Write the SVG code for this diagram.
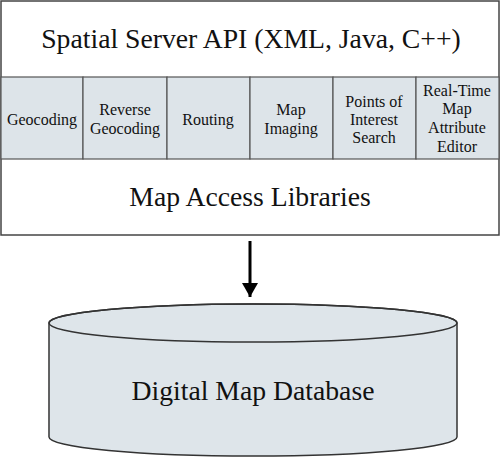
<svg xmlns="http://www.w3.org/2000/svg" width="500" height="457" viewBox="0 0 500 457">
<style>
text{font-family:"Liberation Serif","Times New Roman",serif;fill:#111;text-anchor:middle}
.big{font-size:27.7px}
.cell{font-size:16px}
.box{fill:#fff;stroke:#444;stroke-width:1.5}
.c{fill:#dde4e9;stroke:#555;stroke-width:1.2}
.cyl{fill:#dee5ea;stroke:#333;stroke-width:1.5}
</style>
<defs>
<marker id="ah" viewBox="0 0 14 16" refX="14" refY="8" markerWidth="14" markerHeight="16" markerUnits="userSpaceOnUse" orient="auto">
<path d="M0,0 L14,8 L0,16 Z" fill="#000"/>
</marker>
</defs>
<g id="api">
<rect class="box" x="1" y="1" width="498" height="234"/>
<text class="big" x="251" y="48">Spatial Server API (XML, Java, C++)</text>
</g>
<g id="geocoding"><rect class="c" x="1" y="77" width="82" height="82"/><text class="cell" x="42" y="125">Geocoding</text></g>
<g id="reverse"><rect class="c" x="83" y="77" width="84" height="82"/><text class="cell" x="125" y="115">Reverse</text><text class="cell" x="125" y="134">Geocoding</text></g>
<g id="routing"><rect class="c" x="167" y="77" width="83" height="82"/><text class="cell" x="208" y="125">Routing</text></g>
<g id="imaging"><rect class="c" x="250" y="77" width="83" height="82"/><text class="cell" x="291" y="115">Map</text><text class="cell" x="291" y="134">Imaging</text></g>
<g id="poi"><rect class="c" x="333" y="77" width="83" height="82"/><text class="cell" x="374" y="107">Points of</text><text class="cell" x="374" y="125">Interest</text><text class="cell" x="374" y="143">Search</text></g>
<g id="editor"><rect class="c" x="416" y="77" width="83" height="82"/><text class="cell" x="457" y="96">Real-Time</text><text class="cell" x="457" y="114">Map</text><text class="cell" x="457" y="133">Attribute</text><text class="cell" x="457" y="152">Editor</text></g>
<g id="libraries"><text class="big" x="250" y="206">Map Access Libraries</text></g>
<g id="connectors">
<line x1="250" y1="241" x2="250" y2="297" stroke="#000" stroke-width="3" marker-end="url(#ah)"/>
</g>
<g id="database">
<path class="cyl" d="M49,323 A204,19 0 0 1 457,323 L457,437 A204,19 0 0 1 49,437 Z"/>
<ellipse cx="253" cy="323" rx="204" ry="19" fill="none" stroke="#333" stroke-width="1.5"/>
<text class="big" x="253" y="400">Digital Map Database</text>
</g>
</svg>
